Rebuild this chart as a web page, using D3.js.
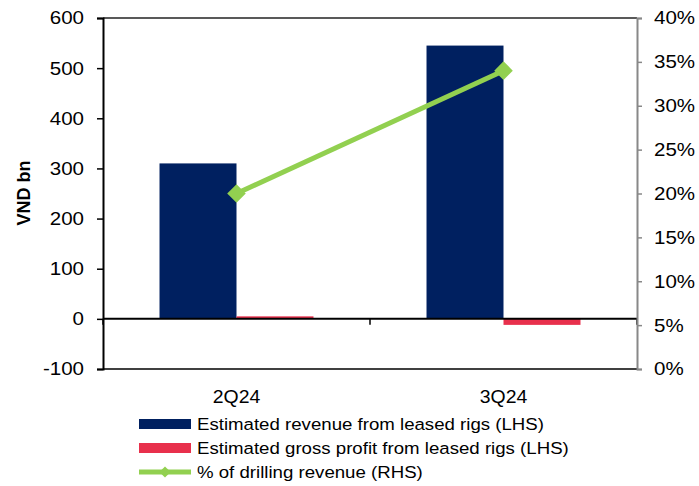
<!DOCTYPE html>
<html>
<head>
<meta charset="utf-8">
<script src="https://cdn.jsdelivr.net/npm/d3@7"></script>
<style>
  html, body { margin: 0; padding: 0; background: #fff; }
  svg { display: block; font-family: "Liberation Sans", Arial, sans-serif; }
</style>
</head>
<body>
<svg id="chart" width="699" height="486"></svg>
<script>
// Quarters on the category axis
const categories = ["2Q24", "3Q24"];
// Left-hand series (VND bn)
const revenueLeased = [310, 545];
const grossProfitLeased = [5, -12];
// Right-hand series (% of drilling revenue)
const pctDrilling = [20, 34];
// Tick values
const leftTicks = [-100, 0, 100, 200, 300, 400, 500, 600];
const rightTicks = [0, 5, 10, 15, 20, 25, 30, 35, 40];

const seriesNames = [
  "Estimated revenue from leased rigs (LHS)",
  "Estimated gross profit from leased rigs (LHS)",
  "% of drilling revenue (RHS)"
];
const colors = { rev: "#002060", gp: "#E8304C", pct: "#92D050" };

// Text is drawn slightly wide, like the Excel export
const STRETCH = 1.11;
function widen(sel) {
  sel.each(function () {
    const t = d3.select(this);
    const x = +t.attr("x") || 0;
    t.attr("x", 0).attr("transform", `translate(${x},0) scale(${STRETCH},1)`);
  });
}

const svg = d3.select("#chart");
const plot = { left: 103, right: 637, top: 18, bottom: 369 };

const x0 = d3.scaleBand().domain(categories).range([plot.left, plot.right]).padding(0);
const x1 = d3.scaleBand().domain(["rev", "gp"]).range([0, x0.bandwidth()])
  .paddingInner(0).paddingOuter(0.734);
const yL = d3.scaleLinear().domain([-100, 600]).range([plot.bottom, plot.top]);
const yR = d3.scaleLinear().domain([0, 40]).range([plot.bottom, plot.top]);

// Frame: top and bottom borders
svg.append("line").attr("x1", plot.left).attr("x2", plot.right)
  .attr("y1", plot.top).attr("y2", plot.top).attr("stroke", "#222").attr("stroke-width", 1.5);
svg.append("line").attr("x1", plot.left).attr("x2", plot.right)
  .attr("y1", plot.bottom).attr("y2", plot.bottom).attr("stroke", "#000").attr("stroke-width", 1.5);

// Bars
const rows = categories.map((c, i) => ({ c, rev: revenueLeased[i], gp: grossProfitLeased[i] }));
const g = svg.append("g");
rows.forEach(r => {
  ["rev", "gp"].forEach(k => {
    const v = r[k];
    g.append("rect")
      .attr("x", x0(r.c) + x1(k))
      .attr("width", x1.bandwidth())
      .attr("y", Math.min(yL(v), yL(0)))
      .attr("height", Math.abs(yL(v) - yL(0)))
      .attr("fill", colors[k]);
  });
});

// Zero line with category separators
svg.append("line").attr("x1", plot.left).attr("x2", plot.right)
  .attr("y1", yL(0)).attr("y2", yL(0)).attr("stroke", "#000").attr("stroke-width", 2);
const sepX = [plot.left, x0(categories[1]), plot.right];
svg.selectAll(".sep").data(sepX).enter().append("line")
  .attr("x1", d => d).attr("x2", d => d)
  .attr("y1", yL(0)).attr("y2", yL(0) + 6)
  .attr("stroke", "#000").attr("stroke-width", 1.5);

// Left axis
const axL = svg.append("g").attr("transform", `translate(${plot.left},0)`)
  .call(d3.axisLeft(yL).tickValues(leftTicks).tickSize(6).tickPadding(13).tickFormat(d => String(d)));
axL.select(".domain").attr("stroke", "#000").attr("stroke-width", 2);
axL.selectAll(".tick line").attr("stroke", "#000").attr("stroke-width", 1.5);
axL.selectAll("text").attr("font-size", "18.5px").attr("fill", "#000")
  .style("font-family", "'Liberation Sans', Arial, sans-serif").call(widen);

// Right axis
const axR = svg.append("g").attr("transform", `translate(${plot.right},0)`)
  .call(d3.axisRight(yR).tickValues(rightTicks).tickSize(5).tickPadding(12).tickFormat(d => d + "%"));
axR.select(".domain").attr("stroke", "#888").attr("stroke-width", 2);
axR.selectAll(".tick line").attr("stroke", "#888").attr("stroke-width", 1.5);
axR.selectAll("text").attr("font-size", "18.5px").attr("fill", "#000")
  .style("font-family", "'Liberation Sans', Arial, sans-serif").call(widen);

// Category labels
svg.selectAll(".cat").data(categories).enter().append("text")
  .attr("transform", d => `translate(${x0(d) + x0.bandwidth() / 2},403) scale(${STRETCH},1)`)
  .attr("text-anchor", "middle")
  .attr("font-size", "17.5px")
  .text(d => d);

// Left axis title
svg.append("text")
  .attr("transform", "translate(30,193) rotate(-90)")
  .attr("text-anchor", "middle")
  .attr("font-size", "18px")
  .attr("font-weight", "bold")
  .text("VND bn");

// Percentage line
const pts = categories.map((c, i) => [x0(c) + x0.bandwidth() / 2, yR(pctDrilling[i])]);
svg.append("path")
  .attr("d", d3.line()(pts))
  .attr("fill", "none").attr("stroke", colors.pct).attr("stroke-width", 5);
const diamond = d3.symbol().type(d3.symbolDiamond2).size(220);
svg.selectAll(".mk").data(pts).enter().append("path")
  .attr("d", diamond)
  .attr("transform", d => `translate(${d[0]},${d[1]})`)
  .attr("fill", colors.pct);

// Legend
const leg = svg.append("g");
const legY = [424, 448, 472];
seriesNames.forEach((name, i) => {
  const y = legY[i];
  if (i < 2) {
    leg.append("rect").attr("x", 139).attr("y", y - 5).attr("width", 52).attr("height", 10)
      .attr("fill", i === 0 ? colors.rev : colors.gp);
  } else {
    leg.append("line").attr("x1", 139).attr("x2", 191).attr("y1", y).attr("y2", y)
      .attr("stroke", colors.pct).attr("stroke-width", 5);
    leg.append("path").attr("d", d3.symbol().type(d3.symbolDiamond2).size(80))
      .attr("transform", `translate(165,${y})`).attr("fill", colors.pct);
  }
  leg.append("text").attr("transform", `translate(197,${y}) scale(${STRETCH},1)`)
    .attr("dy", "0.36em")
    .attr("font-size", "16.8px").text(name);
});
</script>
</body>
</html>
